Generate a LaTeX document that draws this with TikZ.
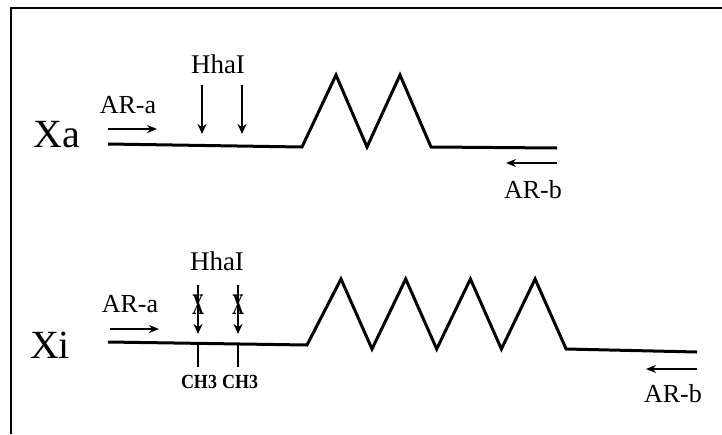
\documentclass[tikz,border=0pt]{standalone}
\usepackage{fontspec}
\setmainfont{Liberation Serif}
\usepackage{tikz}
\usetikzlibrary{arrows.meta}

\tikzset{
  strand/.style={line width=3pt, line join=miter},
  primer/.style={line width=2pt, -{Stealth[length=10pt,width=8pt]}},
  cutarrow/.style={line width=1.8pt, -{Stealth[length=10pt,width=9pt]}},
  lbl/.style={anchor=base, inner sep=0pt, font=\fontsize{26}{26}\selectfont},
  chrom/.style={anchor=base, inner sep=0pt, font=\fontsize{40}{40}\selectfont},
  methyl/.style={anchor=base, inner sep=0pt, font=\fontsize{20}{20}\selectfont\bfseries}
}

\begin{document}
\begin{tikzpicture}[x=1pt,y=-1pt]
  \useasboundingbox (0,0) rectangle (722,434);
  % frame
  \draw[line width=2pt] (11,434) -- (11,8) -- (722,8);

  % active X
  \node[chrom] (xa) at (57,147) {Xa};
  \draw[strand] (108,144) -- (302,147)
    \foreach \k in {0,1} { -- ({336+64*\k},75) -- ({367+64*\k},147) } -- (557,148);
  \node[lbl] (araA) at (128,113) {AR-a};
  \coordinate (araAs) at (108,129);
  \coordinate (araAe) at (157,129);
  \draw[primer] (araAs) -- (araAe);
  \node[lbl, font=\fontsize{27}{27}\selectfont] (hhaA) at (218,73) {HhaI};
  \foreach \x [count=\i] in {202,242} {
    \coordinate (cutA\i) at (\x,85);
    \coordinate (siteA\i) at (\x,134);
    \draw[cutarrow] (cutA\i) -- (siteA\i);
  }
  \node[lbl] (arbA) at (533,198) {AR-b};
  \coordinate (arbAs) at (557,163);
  \coordinate (arbAe) at (506,163);
  \draw[primer] (arbAs) -- (arbAe);

  % inactive X
  \node[chrom] (xi) at (50,358) {Xi};
  \draw[strand] (108,342) -- (307,345)
    \foreach \k in {0,...,3} { -- ({341+64.7*\k},279) -- ({372+64.7*\k},349) } -- (697,352);
  \node[lbl] (araI) at (130,312) {AR-a};
  \coordinate (araIs) at (110,329);
  \coordinate (araIe) at (159,329);
  \draw[primer] (araIs) -- (araIe);
  \node[lbl, font=\fontsize{27}{27}\selectfont] (hhaI) at (217,270) {HhaI};
  \foreach \x [count=\i] in {198,238} {
    \coordinate (cutI\i) at (\x,285);
    \coordinate (siteI\i) at (\x,334);
    \draw[cutarrow] (cutI\i) -- (siteI\i);
    \node[inner sep=0pt, font=\fontsize{30}{30}\selectfont\bfseries] (blockI\i) at (\x,305) {\scalebox{0.55}[1]{X}};
    \coordinate (methI\i) at (\x,343);
    \coordinate (tickI\i) at (\x,367);
    \draw[line width=1.8pt] (methI\i) -- (tickI\i);
  }
  \node[methyl] (chA) at (199,388) {\scalebox{0.9}[1]{CH3}};
  \node[methyl] (chB) at (240,388) {\scalebox{0.9}[1]{CH3}};
  \node[lbl] (arbI) at (673,402) {AR-b};
  \coordinate (arbIs) at (697,369);
  \coordinate (arbIe) at (646,369);
  \draw[primer] (arbIs) -- (arbIe);
\end{tikzpicture}
\end{document}
